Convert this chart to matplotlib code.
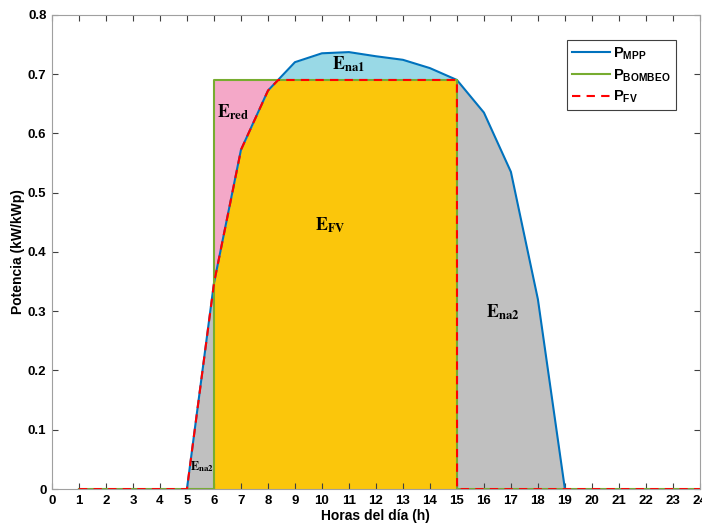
import numpy as np
import matplotlib
matplotlib.use("Agg")
import matplotlib.pyplot as plt

plt.rcParams['font.family'] = ['Liberation Sans', 'DejaVu Sans']
plt.rcParams['mathtext.fontset'] = 'custom'
plt.rcParams['mathtext.rm'] = 'Liberation Sans'
plt.rcParams['mathtext.bf'] = 'Liberation Sans:bold'

# Data
hours = [1, 2, 3, 4, 5, 6, 7, 8, 9, 10, 11, 12, 13, 14, 15, 16, 17, 18, 19, 20, 21, 22, 23, 24]
p_mpp = [0, 0, 0, 0, 0, 0.347, 0.572, 0.672, 0.720, 0.735, 0.737, 0.730, 0.724, 0.710, 0.690,
         0.635, 0.535, 0.320, 0, 0, 0, 0, 0, 0]
bombeo_level = 0.69
bombeo_start = 6
bombeo_end = 15

# Curves
xs = np.linspace(1, 24, 4601)
mpp_f = np.interp(xs, hours, p_mpp)
on = (xs >= bombeo_start) & (xs <= bombeo_end)
fv_f = np.where(on, np.minimum(mpp_f, bombeo_level), 0.0)
fv_f = np.where((xs >= 5) & (xs < bombeo_start), mpp_f, fv_f)

bx = [hours[0], bombeo_start, bombeo_start, bombeo_end, bombeo_end, hours[-1]]
by = [0, 0, bombeo_level, bombeo_level, 0, 0]

fig = plt.figure(figsize=(7.02, 5.27), dpi=100)
ax = fig.add_axes([0.074, 0.072, 0.923, 0.9])

# filled energy areas
ax.fill_between(xs, 0, np.minimum(mpp_f, bombeo_level), where=on, color='#FBC60B', lw=0)
ax.fill_between(xs, mpp_f, bombeo_level, where=on & (mpp_f < bombeo_level),
                color='#F4A8C8', lw=0, interpolate=True)
ax.fill_between(xs, bombeo_level, mpp_f, where=on & (mpp_f > bombeo_level),
                color='#99D9E6', lw=0, interpolate=True)
ax.fill_between(xs, 0, mpp_f, where=(xs >= 5) & (xs <= bombeo_start), color='#C0C0C0', lw=0)
ax.fill_between(xs, 0, mpp_f, where=(xs >= bombeo_end) & (xs <= 19), color='#C0C0C0', lw=0)

ax.plot(hours, p_mpp, color='#0072BD', lw=1.5, label=r'$\mathbf{P}_{\mathbf{MPP}}$')
ax.plot(bx, by, color='#77AC30', lw=1.5, label=r'$\mathbf{P}_{\mathbf{BOMBEO}}$')
ax.plot(xs, fv_f, color='#FF0000', lw=1.5, ls=(0, (4, 3)), label=r'$\mathbf{P}_{\mathbf{FV}}$')

# labels for the areas
ax.text(10.3, 0.445, r'$\mathbf{E}_{\mathbf{FV}}$', fontsize=13, math_fontfamily='stix',
        ha='center', va='center')
ax.text(6.7, 0.636, r'$\mathbf{E}_{\mathbf{red}}$', fontsize=13, math_fontfamily='stix',
        ha='center', va='center')
ax.text(11.0, 0.716, r'$\mathbf{E}_{\mathbf{na1}}$', fontsize=13, math_fontfamily='stix',
        ha='center', va='center')
ax.text(16.7, 0.298, r'$\mathbf{E}_{\mathbf{na2}}$', fontsize=13, math_fontfamily='stix',
        ha='center', va='center')
ax.text(5.55, 0.038, r'$\mathbf{E}_{\mathbf{na2}}$', fontsize=9, math_fontfamily='stix',
        ha='center', va='center')

ax.set_xlim(0, 24)
ax.set_ylim(0, 0.8)
ax.set_xticks(range(0, 25))
ax.set_yticks(np.arange(0, 0.81, 0.1))
ax.set_yticklabels(['0', '0.1', '0.2', '0.3', '0.4', '0.5', '0.6', '0.7', '0.8'])
ax.tick_params(direction='in', top=True, right=True, length=4, color='#404040',
               labelsize=9.5, pad=4)
for lab in ax.get_xticklabels() + ax.get_yticklabels():
    lab.set_fontweight('bold')
for s in ax.spines.values():
    s.set_color('#A0A0A0')
    s.set_linewidth(0.8)

ax.set_xlabel('Horas del día (h)', fontsize=10, fontweight='bold', labelpad=2)
ax.set_ylabel('Potencia (kW/kWp)', fontsize=10, fontweight='bold', labelpad=2)

leg = ax.legend(loc='upper right', bbox_to_anchor=(0.963, 0.947), borderaxespad=0,
                fontsize=10.5, fancybox=False, framealpha=1, edgecolor='#404040',
                handlelength=2.6, handletextpad=0.2, borderpad=0.35, labelspacing=0.35)
leg.get_frame().set_linewidth(0.8)

fig.savefig('out.png', dpi=100)
